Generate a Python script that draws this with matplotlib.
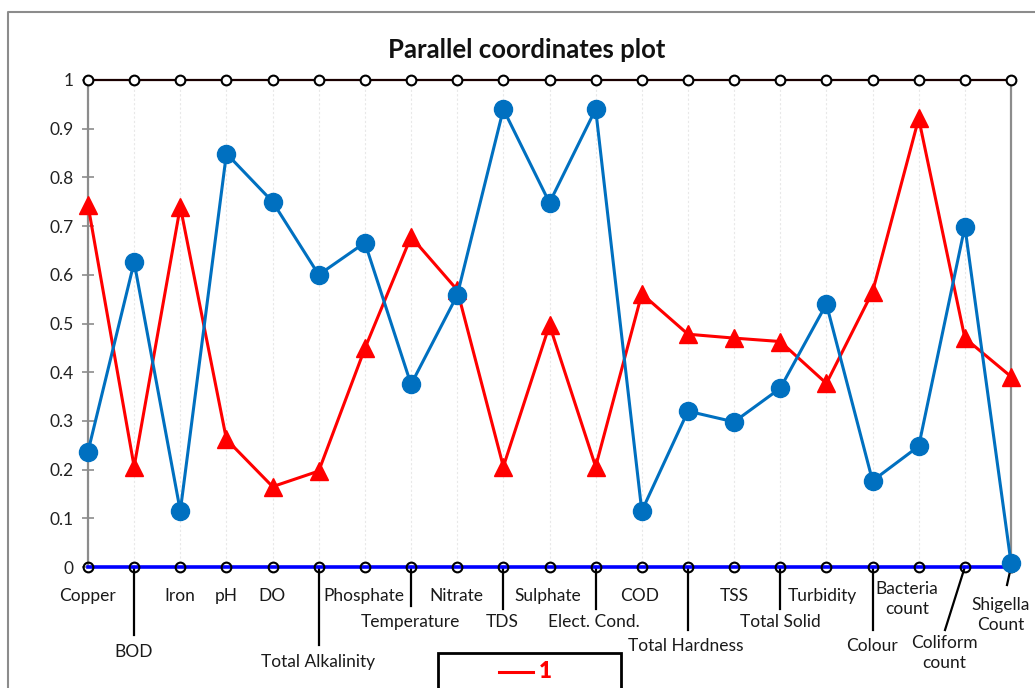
import matplotlib

matplotlib.use("Agg")

import matplotlib.pyplot as plt
from matplotlib.lines import Line2D
from matplotlib.patches import Rectangle

plt.rcParams["font.family"] = ["Lato", "DejaVu Sans"]

W, H = 1035, 688

categories = [
    "Copper", "BOD", "Iron", "pH", "DO", "Total Alkalinity", "Phosphate",
    "Temperature", "Nitrate", "TDS", "Sulphate", "Elect. Cond.", "COD",
    "Total Hardness", "TSS", "Total Solid", "Turbidity", "Colour",
    "Bacteria\ncount", "Coliform\ncount", "Shigella\nCount",
]
series_red = [
    0.743, 0.206, 0.740, 0.262, 0.165, 0.197, 0.449, 0.678, 0.569, 0.206,
    0.497, 0.206, 0.561, 0.478, 0.470, 0.463, 0.377, 0.565, 0.921, 0.470,
    0.391,
]
series_blue = [
    0.237, 0.626, 0.115, 0.849, 0.750, 0.600, 0.666, 0.375, 0.558, 0.940,
    0.748, 0.940, 0.115, 0.320, 0.298, 0.367, 0.540, 0.177, 0.248, 0.699,
    0.009,
]
yticks = [0, 0.1, 0.2, 0.3, 0.4, 0.5, 0.6, 0.7, 0.8, 0.9, 1]
legend_label = "1"

# pixel geometry of the plot frame
X0, X1 = 88, 1011
Y_TOP, Y_BOT = 80, 567


def ax_frac(py):
    return (Y_BOT - py) / (Y_BOT - Y_TOP)


def fig_xy(px, py):
    return px / W, 1 - py / H


fig = plt.figure(figsize=(W / 100, H / 100), dpi=100)
ax = fig.add_axes([X0 / W, 1 - Y_BOT / H, (X1 - X0) / W, (Y_BOT - Y_TOP) / H])
n = len(categories)
xs = list(range(n))
ax.set_xlim(0, n - 1)
ax.set_ylim(0, 1)

for x in xs:
    ax.axvline(x, color="#e8e8e8", lw=0.8, ls=(0, (2, 2)), zorder=0)

for s in ["top", "bottom"]:
    ax.spines[s].set_visible(False)
for s in ["left", "right"]:
    ax.spines[s].set_color("#8c8c8c")
    ax.spines[s].set_linewidth(1.6)

ax.set_yticks(yticks)
ax.set_yticklabels(["%g" % v for v in yticks], fontsize=12.5, color="#222222")
ax.tick_params(axis="y", direction="inout", length=9, width=1.2, color="#8c8c8c", pad=6)
ax.set_xticks([])

# axis limit rails
ax.plot(xs, [1] * n, color="#1a0000", lw=1.6, marker="o", ms=7, mfc="white",
        mec="black", mew=1.5, clip_on=False, zorder=3)
ax.plot(xs, [0] * n, color="#0000ff", lw=2.6, zorder=3, clip_on=False)
ax.plot(xs, [0] * n, ls="none", marker="o", ms=7, mfc="none", mec="black",
        mew=1.5, clip_on=False, zorder=3)

ax.plot(xs, series_red, color="#ff0000", lw=2.2, marker="^", ms=13,
        clip_on=False, zorder=4)
ax.plot(xs, series_blue, color="#0070c0", lw=2.2, marker="o", ms=13,
        clip_on=False, zorder=5)

tr = ax.get_xaxis_transform()

# category labels: (text centre x in px, text centre y in px, leader end y px or None)
label_pos = [
    (87, 596, None), (134, 652, 635), (180, 596, None), (226, 596, None),
    (272, 596, None), (318, 662, 645), (364, 596, None), (410, 622, 606),
    (456, 596, None), (502, 622, 609), (548, 596, None), (594, 622, 609),
    (640, 596, None), (686, 646, 630), (734, 596, None), (780, 622, 609),
    (822, 596, None), (872, 646, 630), (907, 599, None), (944, 653, None),
    (1001, 615, None),
]
for i, (lab, (px, py, lead)) in enumerate(zip(categories, label_pos)):
    xd = (px - X0) / (X1 - X0) * (n - 1)
    ax.text(xd, ax_frac(py), lab, transform=tr, ha="center", va="center",
            fontsize=12.5, color="#1a1a1a", linespacing=1.25, clip_on=False)
    if lead is not None:
        ax.plot([i, i], [0, ax_frac(lead)], transform=tr, color="black",
                lw=1.6, clip_on=False, zorder=2)

# slanted leaders for the two rightmost labels
for i, (ex, ey) in [(19, (945, 630)), (20, (1007, 585))]:
    xd = (ex - X0) / (X1 - X0) * (n - 1)
    ax.plot([i, xd], [0, ax_frac(ey)], transform=tr, color="black", lw=1.6,
            clip_on=False, zorder=2)

fig.text(*fig_xy(527, 50), "Parallel coordinates plot", ha="center",
         va="center", fontsize=18.5, fontweight="bold", color="#111111")

# chart area outline
fig.add_artist(Line2D([8 / W, 8 / W, 1.01], [-0.01, 1 - 12 / H, 1 - 12 / H],
                      transform=fig.transFigure, color="#8c8c8c", lw=1.5))

# legend box
lx0, ly0 = fig_xy(438, 700)
lx1, ly1 = fig_xy(621, 653)
fig.add_artist(Rectangle((lx0, ly0), lx1 - lx0, ly1 - ly0, transform=fig.transFigure,
                         fill=False, ec="black", lw=2))
fig.add_artist(Line2D([499 / W, 533 / W], [1 - 672 / H] * 2,
                      transform=fig.transFigure, color="#ff0000", lw=2.2))
fig.text(*fig_xy(545, 672), legend_label, ha="center", va="center",
         fontsize=16, fontweight="heavy", color="#ff0000")

fig.savefig("out.png", dpi=100)
